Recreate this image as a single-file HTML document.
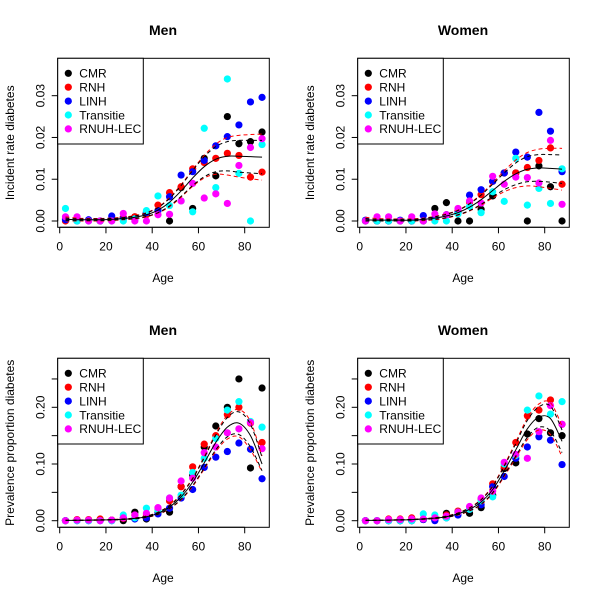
<!DOCTYPE html>
<html><head><meta charset="utf-8"><style>
html,body{margin:0;padding:0;background:#fff;}
svg{display:block;font-family:"Liberation Sans",sans-serif;}
</style></head><body>
<svg id="chart" width="600" height="600" viewBox="0 0 600 600"></svg>
<script>
const ages=[2.5,7.5,12.5,17.5,22.5,27.5,32.5,37.5,42.5,47.5,52.5,57.5,62.5,67.5,72.5,77.5,82.5,87.5];
const seriesNames=["CMR","RNH","LINH","Transitie","RNUH-LEC"];
const seriesColors=["#000000","#ff0000","#0000ff","#00ffff","#ff00ff"];
const incTicks=[0,0.01,0.02,0.03];
const incTickLabels=["0.00","0.01","0.02","0.03"];
const prevTicks=[0,0.05,0.10,0.15,0.20,0.25];
const prevTickLabels=["0.00","","0.10","","0.20",""];
const xTicks=[0,20,40,60,80];
const titles=["Men","Women","Men","Women"];
const yTitles=["Incident rate diabetes","Incident rate diabetes","Prevalence proportion diabetes","Prevalence proportion diabetes"];

const menIncCMR=[0.0005,0.0003,0.0002,0,0.0005,0.0008,0.001,0.002,0.0025,0,0.008,0.003,0.015,0.0108,0.025,0.0185,0.019,0.0213];
const menIncRNH=[0,0.0003,0.0002,0,0.0003,0.0008,0.001,0.0015,0.0038,0.0068,0.0082,0.0125,0.014,0.015,0.0162,0.0157,0.0105,0.0117];
const menIncLINH=[0.0003,0,0.0003,0,0.0012,0.0005,0.0005,0.002,0.0025,0.0058,0.011,0.0118,0.0145,0.018,0.0202,0.023,0.0285,0.0296];
const menIncTrans=[0.003,0,0,0,0,0,0.0005,0.0025,0.006,0.0037,0.0048,0.0022,0.0222,0.008,0.034,0.0114,0,0.0183];
const menIncRNUH=[0.001,0.001,0,0,0,0.0018,0,0,0.0015,0.0016,0.0048,0.009,0.0055,0.0065,0.0042,0.0133,0.0176,0.0197];
const menIncFit=[0.0004,0.0003,0.0003,0.0003,0.0004,0.0006,0.0009,0.0015,0.0026,0.0045,0.0072,0.0103,0.013,0.0148,0.0155,0.0155,0.0154,0.0153];
const menIncCiB=[0.0003,0.0002,0.0002,0.0002,0.0002,0.0002,0.0003,0.0004,0.0006,0.0009,0.0013,0.0018,0.0024,0.003,0.0035,0.0038,0.0039,0.004];
const menIncCiR=[0.0006,0.0004,0.0003,0.0003,0.0003,0.0003,0.0004,0.0005,0.0007,0.0011,0.0015,0.002,0.0027,0.0036,0.0045,0.005,0.0053,0.0055];

const womIncCMR=[0,0,0,0,0,0,0.003,0.0044,0,0,0.0028,0.006,0.0115,0.0115,0,0.0132,0.0082,0];
const womIncRNH=[0,0,0,0,0,0,0.0005,0.0015,0.0025,0.0045,0.0063,0.0095,0.0115,0.0115,0.0128,0.0145,0.0175,0.0088];
const womIncLINH=[0.0002,0,0,0.0002,0,0.0013,0.0005,0.0015,0.002,0.0062,0.0075,0.0095,0.0115,0.0165,0.0153,0.026,0.0215,0.0118];
const womIncTrans=[0,0,0,0,0,0,0,0,0.0017,0.0035,0.002,0.007,0.0047,0.015,0.0038,0.0078,0.0042,0.0125];
const womIncRNUH=[0,0.001,0.001,0,0.001,0,0.0017,0.0015,0.003,0.0048,0.0043,0.0107,0.0088,0.0105,0.0104,0.0091,0.0193,0.004];
const womIncFit=[0.0003,0.0002,0.0002,0.0002,0.0002,0.0004,0.0007,0.0012,0.002,0.0033,0.0051,0.0073,0.0095,0.0113,0.0124,0.0127,0.0126,0.0124];
const womIncCiB=[0.0003,0.0002,0.0002,0.0002,0.0002,0.0002,0.0003,0.0004,0.0005,0.0008,0.0011,0.0015,0.002,0.0026,0.003,0.0032,0.0033,0.0034];
const womIncCiR=[0.0006,0.0004,0.0003,0.0003,0.0003,0.0003,0.0004,0.0005,0.0006,0.0009,0.0013,0.0018,0.0025,0.0033,0.004,0.0045,0.0048,0.005];

const menPrevCMR=[0,0.001,0.001,0.002,0.001,0,0.015,0.003,0.015,0.015,0.06,0.08,0.13,0.167,0.2,0.25,0.093,0.234];
const menPrevRNH=[0,0.002,0.002,0.003,0.001,0.004,0.01,0.01,0.02,0.035,0.06,0.095,0.135,0.15,0.187,0.2,0.172,0.138];
const menPrevLINH=[0,0,0,0,0,0.005,0.003,0.005,0.012,0.022,0.04,0.055,0.094,0.112,0.122,0.137,0.126,0.074];
const menPrevTrans=[0,0,0,0,0,0.01,0.005,0.022,0.018,0.04,0.045,0.085,0.11,0.145,0.195,0.21,0.175,0.165];
const menPrevRNUH=[0,0.001,0.001,0,0.001,0.005,0.01,0.013,0.023,0.04,0.07,0.075,0.12,0.13,0.155,0.162,0.173,0.127];
const menPrevFit=[0.0005,0.0007,0.001,0.0013,0.0017,0.0025,0.004,0.007,0.013,0.024,0.042,0.068,0.102,0.138,0.165,0.172,0.15,0.1];
const menPrevCiB=[0.0002,0.0002,0.0002,0.0003,0.0003,0.0004,0.0006,0.001,0.0016,0.0026,0.004,0.006,0.009,0.013,0.017,0.02,0.02,0.012];
const menPrevCiR=[0.0003,0.0003,0.0003,0.0004,0.0004,0.0005,0.0008,0.0013,0.002,0.0032,0.005,0.0075,0.011,0.016,0.021,0.024,0.025,0.014];

const womPrevCMR=[0,0,0,0,0,0.002,0.002,0.013,0.015,0.013,0.023,0.045,0.092,0.102,0.153,0.18,0.155,0.15];
const womPrevRNH=[0,0,0.003,0.003,0.005,0.003,0.005,0.01,0.017,0.02,0.038,0.065,0.095,0.138,0.185,0.195,0.213,0.17];
const womPrevLINH=[0,0,0,0,0,0.002,0,0.005,0.01,0.02,0.028,0.06,0.078,0.11,0.13,0.148,0.142,0.099];
const womPrevTrans=[0,0,0,0,0,0.012,0.01,0.005,0.015,0.02,0.035,0.042,0.1,0.115,0.195,0.22,0.188,0.21];
const womPrevRNUH=[0,0,0.002,0.002,0.003,0.003,0.005,0.008,0.015,0.025,0.04,0.052,0.103,0.117,0.11,0.157,0.203,0.17];
const womPrevFit=[0.0005,0.0007,0.001,0.0014,0.002,0.003,0.0045,0.007,0.012,0.02,0.033,0.055,0.088,0.125,0.162,0.183,0.18,0.14];
const womPrevCiB=[0.0002,0.0002,0.0002,0.0003,0.0003,0.0004,0.0006,0.001,0.0015,0.0024,0.0037,0.0055,0.008,0.011,0.015,0.018,0.022,0.02];
const womPrevCiR=[0.0003,0.0003,0.0003,0.0004,0.0004,0.0005,0.0008,0.0013,0.0019,0.003,0.0046,0.007,0.01,0.014,0.019,0.023,0.028,0.027];

const NS="http://www.w3.org/2000/svg";
const svg=document.getElementById('chart');
function mk(tag,attrs,parent){const e=document.createElementNS(NS,tag);for(const k in attrs)e.setAttribute(k,attrs[k]);(parent||svg).appendChild(e);return e;}

function smoothPath(pts){
  let d="M"+pts[0][0].toFixed(2)+","+pts[0][1].toFixed(2);
  for(let i=0;i<pts.length-1;i++){
    const p0=pts[Math.max(0,i-1)],p1=pts[i],p2=pts[i+1],p3=pts[Math.min(pts.length-1,i+2)];
    const c1x=p1[0]+(p2[0]-p0[0])/6,c1y=p1[1]+(p2[1]-p0[1])/6;
    const c2x=p2[0]-(p3[0]-p1[0])/6,c2y=p2[1]-(p3[1]-p1[1])/6;
    d+=" C"+c1x.toFixed(2)+","+c1y.toFixed(2)+" "+c2x.toFixed(2)+","+c2y.toFixed(2)+" "+p2[0].toFixed(2)+","+p2[1].toFixed(2);
  }
  return d;
}

const panels=[
 {ox:0,oy:0,series:[menIncCMR,menIncRNH,menIncLINH,menIncTrans,menIncRNUH],fit:menIncFit,ciB:menIncCiB,ciR:menIncCiR,ticks:incTicks,labels:incTickLabels,y0:221,scale:4177,name:"men-incidence"},
 {ox:300,oy:0,series:[womIncCMR,womIncRNH,womIncLINH,womIncTrans,womIncRNUH],fit:womIncFit,ciB:womIncCiB,ciR:womIncCiR,ticks:incTicks,labels:incTickLabels,y0:221,scale:4177,name:"women-incidence"},
 {ox:0,oy:300,series:[menPrevCMR,menPrevRNH,menPrevLINH,menPrevTrans,menPrevRNUH],fit:menPrevFit,ciB:menPrevCiB,ciR:menPrevCiR,ticks:prevTicks,labels:prevTickLabels,y0:220.7,scale:567,name:"men-prevalence"},
 {ox:300,oy:300,series:[womPrevCMR,womPrevRNH,womPrevLINH,womPrevTrans,womPrevRNUH],fit:womPrevFit,ciB:womPrevCiB,ciR:womPrevCiR,ticks:prevTicks,labels:prevTickLabels,y0:220.7,scale:567,name:"women-prevalence"}
];

panels.forEach((p,pi)=>{
  const g=mk('g',{transform:`translate(${p.ox},${p.oy})`});
  
  
  const xs=a=>59.7+a*2.3125;
  const ys=v=>p.y0-v*p.scale;
  const L=57.7,R=269.3,T=58.3,B=227.3;
  // title
  const t=mk('text',{x:163,y:35,'text-anchor':'middle','font-size':14,'font-weight':'bold',fill:'#000'},g);
  t.textContent=titles[pi];
  
  
  // y title
  const yt=mk('text',{x:0,y:0,transform:`translate(14,${(T+B)/2}) rotate(-90)`,'text-anchor':'middle','font-size':12,fill:'#000'},g);
  yt.textContent=yTitles[pi];
  
  
  // x title
  const xt=mk('text',{x:163,y:282,'text-anchor':'middle','font-size':12,fill:'#000'},g);
  xt.textContent="Age";
  
  
  // x axis
  const xa=mk('g',{},g);
  
  
  mk('line',{x1:xs(xTicks[0]),x2:xs(xTicks[xTicks.length-1]),y1:B,y2:B,stroke:'#000'},xa);
  xTicks.forEach(v=>{
    mk('line',{x1:xs(v),x2:xs(v),y1:B,y2:B+6,stroke:'#000'},xa);
    const tl=mk('text',{x:xs(v),y:B+23,'text-anchor':'middle','font-size':12,fill:'#000'},xa);
    tl.textContent=v;
    
    
  });
  // y axis
  const ya=mk('g',{},g);
  
  
  mk('line',{x1:L,x2:L,y1:ys(p.ticks[0]),y2:ys(p.ticks[p.ticks.length-1]),stroke:'#000'},ya);
  p.ticks.forEach((v,i)=>{
    mk('line',{x1:L-6,x2:L,y1:ys(v),y2:ys(v),stroke:'#000'},ya);
    if(p.labels[i]){
      const tl=mk('text',{x:0,y:0,transform:`translate(${L-13},${ys(v)}) rotate(-90)`,'text-anchor':'middle','font-size':12,fill:'#000'},ya);
      tl.textContent=p.labels[i];
      
      
    }
  });
  // points
  p.series.forEach((s,si)=>{
    const sg=mk('g',{},g);
    
    
    s.forEach((v,i)=>{
      const c=mk('circle',{cx:xs(ages[i]),cy:ys(v),r:3.6,fill:seriesColors[si]},sg);
      
      
    });
  });
  // curves
  const curve=(vals,stroke,dash,nm)=>{
    const pts=ages.map((a,i)=>[xs(a),ys(vals[i])]);
    const pa=mk('path',{d:smoothPath(pts),fill:'none',stroke:stroke,'stroke-width':1,'stroke-dasharray':dash||'none'},g);
    
    
  };
  curve(p.fit.map((v,i)=>v+p.ciR[i]),'#ff0000','4,3','upper-ci-red');
  curve(p.fit.map((v,i)=>Math.max(0,v-p.ciR[i])),'#ff0000','4,3','lower-ci-red');
  curve(p.fit.map((v,i)=>v+p.ciB[i]),'#000','4,3','upper-ci-black');
  curve(p.fit.map((v,i)=>Math.max(0,v-p.ciB[i])),'#000','4,3','lower-ci-black');
  curve(p.fit,'#000',null,'fitted-curve');
  // box
  mk('rect',{x:L,y:T,width:R-L,height:B-T,fill:'none',stroke:'#000'},g);
  // legend
  const lg=mk('g',{},g);
  
  
  mk('rect',{x:L,y:T,width:85.6,height:85.7,fill:'#fff',stroke:'#000'},lg);
  seriesNames.forEach((n,i)=>{
    const y=73.3+i*13.9;
    const e=mk('g',{},lg);
    
    
    mk('circle',{cx:68.3,cy:y,r:3.6,fill:seriesColors[i]},e);
    const tx=mk('text',{x:79.3,y:y+4.3,'font-size':12,fill:'#000'},e);
    tx.textContent=n;
  });
});
</script>
</body></html>
